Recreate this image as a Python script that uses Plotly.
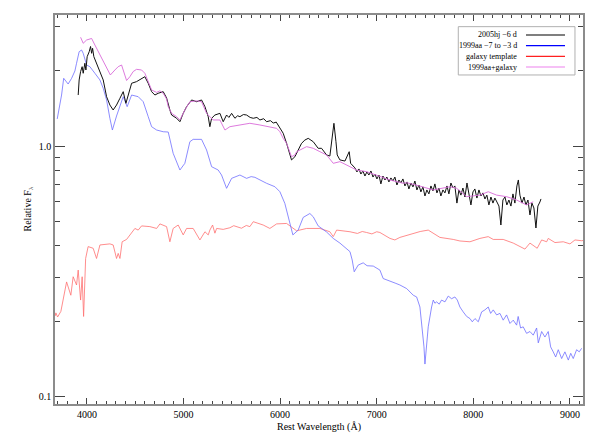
import plotly.graph_objects as go

# ---- data (rest wavelength [A], relative F_lambda) ----
SN2005HJ = [
    (3910, 1.597), (3920, 1.834), (3935, 1.981), (3951, 2.072), (3962, 1.950), (3979, 2.138),
    (3990, 2.010), (4003, 2.271), (4024, 2.377), (4038, 2.494), (4049, 2.343), (4059, 2.453),
    (4072, 2.272), (4100, 2.138), (4135, 1.981), (4169, 1.834), (4204, 1.573), (4238, 1.457),
    (4272, 1.392), (4307, 1.457), (4342, 1.550), (4376, 1.647), (4404, 1.480), (4428, 1.597),
    (4463, 1.779), (4514, 1.806), (4566, 1.862), (4600, 1.890), (4635, 1.779), (4670, 1.647),
    (4704, 1.597), (4738, 1.623), (4790, 1.647), (4825, 1.555), (4859, 1.392), (4877, 1.329),
    (4929, 1.290), (4963, 1.250), (4997, 1.350), (5032, 1.435), (5084, 1.526), (5136, 1.502),
    (5187, 1.526), (5222, 1.435), (5256, 1.309), (5273, 1.194), (5291, 1.290), (5325, 1.329),
    (5377, 1.350), (5411, 1.250), (5446, 1.329), (5470, 1.300), (5498, 1.350), (5532, 1.290),
    (5560, 1.320), (5584, 1.309), (5620, 1.335), (5653, 1.329), (5690, 1.300), (5722, 1.290),
    (5760, 1.300), (5791, 1.270), (5830, 1.285), (5860, 1.250), (5900, 1.262), (5929, 1.235),
    (5960, 1.245), (5980, 1.213),
    (6032, 1.124), (6067, 1.025), (6101, 0.935), (6118, 0.880), (6153, 0.906), (6187, 0.964),
    (6222, 1.025), (6256, 1.056), (6291, 1.073), (6343, 1.040), (6394, 0.979), (6429, 0.979),
    (6481, 0.921), (6515, 0.912), (6539, 1.056), (6557, 1.232), (6578, 1.040), (6591, 0.921),
    (6619, 0.880), (6671, 0.871), (6715, 0.949), (6730, 0.853),
    (6774, 0.818), (6795, 0.788), (6816, 0.810), (6836, 0.773), (6857, 0.795), (6878, 0.759),
    (6898, 0.788), (6919, 0.766), (6940, 0.795), (6961, 0.752), (6981, 0.773), (7002, 0.739),
    (7023, 0.766), (7043, 0.706), (7064, 0.759), (7085, 0.732), (7105, 0.752), (7126, 0.719),
    (7147, 0.746), (7168, 0.725), (7188, 0.752), (7209, 0.699), (7230, 0.732), (7250, 0.712),
    (7271, 0.739), (7292, 0.693), (7313, 0.719), (7333, 0.674), (7354, 0.712), (7375, 0.687),
    (7395, 0.725), (7416, 0.668), (7437, 0.699), (7457, 0.656), (7478, 0.687), (7499, 0.632),
    (7519, 0.668), (7540, 0.644), (7561, 0.693), (7582, 0.662), (7602, 0.706), (7623, 0.650),
    (7644, 0.680), (7664, 0.632), (7685, 0.668), (7706, 0.650), (7727, 0.693), (7747, 0.644),
    (7768, 0.712), (7789, 0.680), (7809, 0.693), (7830, 0.592), (7851, 0.668), (7871, 0.637),
    (7892, 0.680), (7913, 0.626), (7934, 0.712), (7954, 0.650), (7975, 0.582), (7996, 0.656),
    (8016, 0.674), (8037, 0.620), (8058, 0.668), (8078, 0.632), (8099, 0.650), (8120, 0.615),
    (8140, 0.637), (8161, 0.582), (8182, 0.626), (8203, 0.592), (8223, 0.620), (8244, 0.598),
    (8265, 0.576), (8285, 0.484), (8306, 0.609), (8327, 0.626), (8347, 0.582), (8368, 0.609),
    (8389, 0.576), (8410, 0.644), (8430, 0.592), (8451, 0.693), (8466, 0.732), (8482, 0.637),
    (8503, 0.592), (8524, 0.626), (8544, 0.582), (8565, 0.609), (8586, 0.531), (8606, 0.592),
    (8627, 0.566), (8648, 0.471), (8668, 0.576), (8689, 0.598), (8700, 0.615),
]

SN1999AA = [
    (3693, 1.282), (3738, 1.597), (3760, 1.862), (3806, 1.767), (3842, 1.862), (3876, 1.992),
    (3893, 2.138), (3920, 2.377), (3945, 2.415), (3962, 2.343), (3997, 2.104), (4031, 2.072),
    (4083, 1.950), (4135, 1.834), (4169, 1.699), (4204, 1.526), (4238, 1.290), (4264, 1.158),
    (4307, 1.317), (4342, 1.457), (4376, 1.573), (4417, 1.435), (4463, 1.597), (4531, 1.573),
    (4583, 1.502), (4635, 1.309), (4670, 1.194), (4722, 1.158), (4790, 1.140), (4842, 1.137),
    (4893, 0.935), (4963, 0.802), (5014, 0.853), (5066, 1.040), (5100, 1.063), (5187, 1.063),
    (5239, 0.964), (5291, 0.827), (5359, 0.802), (5394, 0.766), (5446, 0.678), (5498, 0.743),
    (5584, 0.766), (5653, 0.743), (5700, 0.755), (5739, 0.750), (5791, 0.732), (5860, 0.710),
    (5946, 0.688),
    (5998, 0.657), (6049, 0.590), (6101, 0.489), (6132, 0.442), (6187, 0.462), (6239, 0.519),
    (6308, 0.538), (6343, 0.522), (6394, 0.480), (6481, 0.454), (6550, 0.428), (6619, 0.410),
    (6723, 0.379), (6746, 0.351), (6767, 0.315), (6808, 0.335), (6860, 0.342), (6900, 0.333),
    (6964, 0.332), (7000, 0.326),
    (7033, 0.320), (7067, 0.296), (7137, 0.288), (7190, 0.284), (7240, 0.279), (7310, 0.270),
    (7378, 0.254),
    (7413, 0.250), (7447, 0.228), (7471, 0.190), (7489, 0.158), (7499, 0.135), (7517, 0.158),
    (7533, 0.190), (7568, 0.228), (7585, 0.243), (7602, 0.236), (7620, 0.239), (7647, 0.234),
    (7671, 0.243), (7706, 0.239), (7740, 0.252), (7775, 0.246), (7809, 0.250), (7834, 0.243),
    (7861, 0.228), (7895, 0.218), (7931, 0.209), (7965, 0.205), (7989, 0.199), (8017, 0.205),
    (8051, 0.199), (8086, 0.218), (8120, 0.222), (8154, 0.228), (8179, 0.215), (8206, 0.222),
    (8241, 0.212), (8275, 0.215), (8309, 0.202), (8344, 0.212), (8379, 0.196), (8413, 0.202),
    (8448, 0.193), (8464, 0.209), (8489, 0.188), (8516, 0.190), (8551, 0.179), (8586, 0.182),
    (8620, 0.176), (8655, 0.188), (8672, 0.164), (8707, 0.182), (8741, 0.173), (8775, 0.182),
    (8800, 0.158), (8827, 0.151), (8852, 0.144), (8879, 0.154), (8914, 0.142), (8948, 0.151),
    (8983, 0.140), (9008, 0.149), (9034, 0.142), (9069, 0.154), (9096, 0.151), (9121, 0.156),
]

GALAXY = [
    (3672, 0.210), (3679, 0.216), (3697, 0.208), (3731, 0.219), (3790, 0.287), (3834, 0.254),
    (3858, 0.301), (3893, 0.279), (3910, 0.320), (3935, 0.243), (3951, 0.301), (3966, 0.209),
    (3987, 0.356), (4013, 0.397), (4065, 0.391), (4100, 0.356), (4135, 0.403), (4238, 0.407),
    (4272, 0.403), (4307, 0.356), (4324, 0.373), (4342, 0.356), (4365, 0.415), (4411, 0.424),
    (4497, 0.469), (4531, 0.462), (4566, 0.480), (4652, 0.477), (4722, 0.469), (4756, 0.489),
    (4825, 0.477), (4859, 0.415), (4893, 0.469), (4945, 0.484), (4997, 0.442), (5032, 0.469),
    (5100, 0.469), (5170, 0.422), (5222, 0.455), (5256, 0.442), (5273, 0.462), (5301, 0.484),
    (5325, 0.449), (5343, 0.469), (5411, 0.465), (5480, 0.472), (5520, 0.481), (5550, 0.477),
    (5600, 0.470), (5650, 0.482), (5687, 0.477), (5722, 0.499),
    (5825, 0.484), (5894, 0.469), (5964, 0.489), (6067, 0.491), (6171, 0.459), (6274, 0.469),
    (6412, 0.469), (6515, 0.455), (6550, 0.435), (6585, 0.462), (6723, 0.455), (6800, 0.448),
    (6850, 0.456), (6895, 0.452), (6950, 0.446), (7000, 0.455),
    (7033, 0.452), (7137, 0.428), (7188, 0.422), (7240, 0.432), (7344, 0.444), (7400, 0.450),
    (7450, 0.456), (7533, 0.462),
    (7654, 0.432), (7792, 0.424), (7861, 0.418), (7965, 0.415), (8068, 0.428), (8154, 0.435),
    (8206, 0.424), (8309, 0.424), (8413, 0.410), (8534, 0.388), (8586, 0.410), (8661, 0.391),
    (8707, 0.422), (8759, 0.415), (8775, 0.428), (8845, 0.412), (8931, 0.415), (9000, 0.407),
    (9052, 0.422), (9121, 0.419), (9135, 0.420),
]

SUM_1999AA_GALAXY = [
    (3935, 2.714), (3962, 2.569), (3997, 2.647), (4049, 2.685), (4083, 2.528), (4135, 2.307),
    (4169, 2.203), (4204, 2.041), (4243, 1.920), (4290, 2.010), (4324, 2.072), (4359, 2.104),
    (4383, 1.981), (4411, 1.825), (4445, 1.890), (4479, 1.981), (4514, 2.022), (4566, 2.010),
    (4600, 1.950), (4635, 1.806), (4670, 1.673), (4722, 1.636), (4756, 1.660), (4790, 1.623),
    (4825, 1.540), (4842, 1.435), (4877, 1.350), (4929, 1.309), (4963, 1.270), (5014, 1.392),
    (5066, 1.502), (5136, 1.514), (5187, 1.502), (5239, 1.350), (5307, 1.270), (5377, 1.270),
    (5429, 1.158), (5480, 1.194), (5584, 1.213), (5687, 1.232), (5791, 1.213), (5894, 1.194),
    (5964, 1.176), (5998, 1.140), (6032, 1.073), (6067, 1.025), (6084, 0.979), (6118, 0.906),
    (6153, 0.921), (6171, 0.949), (6274, 0.994), (6343, 0.979), (6412, 0.949), (6481, 0.921),
    (6550, 0.853), (6619, 0.866), (6723, 0.827), (6792, 0.802), (6895, 0.790), (6998, 0.766),
    (7137, 0.732), (7274, 0.710), (7310, 0.714), (7447, 0.692), (7585, 0.668), (7758, 0.688),
    (7827, 0.678), (7931, 0.628), (8068, 0.637), (8154, 0.657), (8241, 0.637), (8344, 0.628),
    (8448, 0.609), (8551, 0.582), (8620, 0.599),
]

SERIES_NAMES = ["2005hj \u22126 d", "1999aa \u22127 to \u22123 d", "galaxy template", "1999aa+galaxy"]
X_TICKS = [4000, 5000, 6000, 7000, 8000, 9000]
Y_TICKS = [0.1, 1.0]
Y_TICK_TEXT = ["0.1", "1.0"]
Y_MINOR = [0.2, 0.3, 0.4, 0.5, 0.6, 0.7, 0.8, 0.9, 2, 3]
X_TITLE = "Rest Wavelength (\u00c5)"
Y_TITLE = "Relative F<sub>\u03bb</sub>"

# ---- styling ----
FONT = "Liberation Serif"
LINE_COLORS = ["#111111", "#6f6fff", "#ff7070", "#d96bd9"]
LINE_WIDTHS = [1.0, 0.8, 0.8, 0.9]
LEGEND_COLORS = ["#000000", "#0000ff", "#ff2020", "#ee82ee"]


def unzip(pairs):
    return [p[0] for p in pairs], [p[1] for p in pairs]


fig = go.Figure()
datasets = [SN2005HJ, SN1999AA, GALAXY, SUM_1999AA_GALAXY]
for idx in [2, 1, 0, 3]:
    xs, ys = unzip(datasets[idx])
    fig.add_trace(go.Scatter(
        x=xs, y=ys, mode="lines", name=SERIES_NAMES[idx], showlegend=False,
        line=dict(color=LINE_COLORS[idx], width=LINE_WIDTHS[idx]),
    ))

axis_common = dict(
    showline=True, linecolor="#8c8c8c", linewidth=1.5, mirror="ticks",
    ticks="inside", tickcolor="#444444", tickwidth=1,
    showgrid=False, zeroline=False, automargin=False,
    tickfont=dict(family=FONT, size=10, color="#000000"),
)

fig.update_xaxes(
    **axis_common,
    range=[3670, 9135], tickvals=X_TICKS, ticklen=6,
    minor=dict(ticks="inside", ticklen=3, dtick=100, tick0=0, tickcolor="#444444", showgrid=False),
)
fig.update_yaxes(
    **axis_common,
    type="log", range=[-1.029, 0.5225], tickvals=Y_TICKS, ticktext=Y_TICK_TEXT, ticklen=10,
    minor=dict(ticks="inside", ticklen=5, tickvals=Y_MINOR, tickcolor="#444444", showgrid=False),
)

# axis titles
fig.add_annotation(x=0.5, y=0, xref="paper", yref="paper", text=X_TITLE, showarrow=False,
                   xanchor="center", yanchor="middle", yshift=-23,
                   font=dict(family=FONT, size=10, color="#000000"))
fig.add_annotation(x=0, y=0.5, xref="paper", yref="paper", text=Y_TITLE, showarrow=False,
                   xanchor="center", yanchor="middle", xshift=-27, textangle=-90,
                   font=dict(family=FONT, size=10, color="#000000"))

# ---- custom legend (text left of sample line) ----
box = dict(x0=0.7638, x1=0.9848, y0=0.8458, y1=0.970)
fig.add_shape(type="rect", xref="paper", yref="paper", **box,
              line=dict(color="#b0b0b0", width=1), fillcolor="white", layer="above")
rows = [0.9486, 0.9211, 0.8938, 0.8663]
for name, col, yy in zip(SERIES_NAMES, LEGEND_COLORS, rows):
    fig.add_annotation(x=0.8797, y=yy, xref="paper", yref="paper", text=name, showarrow=False,
                       xanchor="right", yanchor="middle",
                       font=dict(family=FONT, size=8, color="#000000"))
    fig.add_shape(type="line", xref="paper", yref="paper", x0=0.892, x1=0.9659, y0=yy, y1=yy,
                  line=dict(color=col, width=1.2), layer="above")

# The page body has an 8px default margin, so the figure is sized/offset to
# place the plot frame at the same pixel positions as the reference.
fig.update_layout(
    width=582, height=425,
    margin=dict(l=47, r=7, t=7, b=29),
    paper_bgcolor="white", plot_bgcolor="white",
    font=dict(family=FONT, size=10, color="#000000"),
)

fig.write_html("out.html")
